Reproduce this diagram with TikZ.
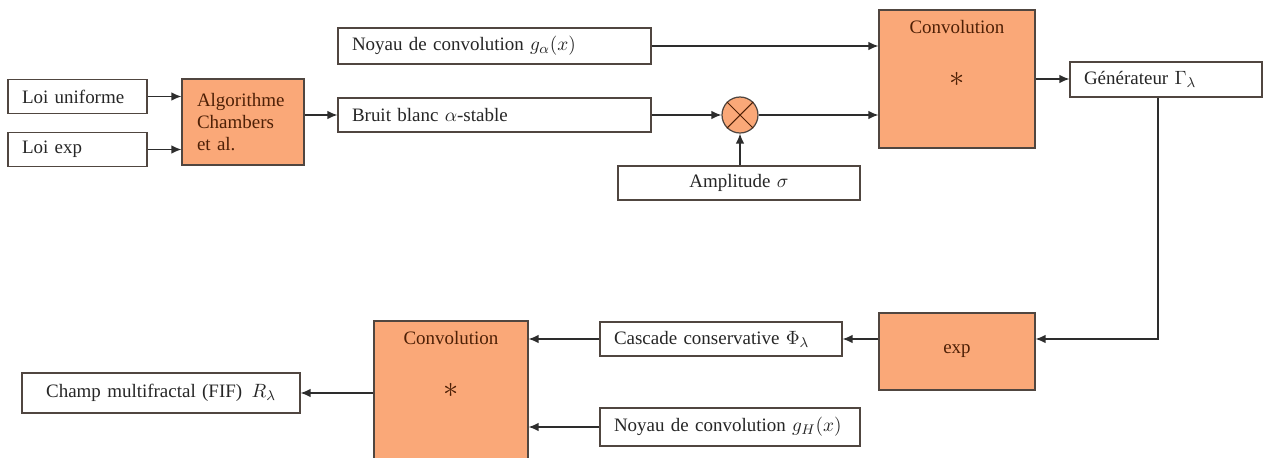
\documentclass[tikz,border=0pt]{standalone}
\usepackage{fontspec}
\setmainfont{Liberation Serif}
\usetikzlibrary{arrows.meta, positioning, calc}

\definecolor{boxorange}{RGB}{250,168,120}
\definecolor{boxedge}{RGB}{80,70,64}
\definecolor{brtext}{RGB}{78,32,6}
\definecolor{linegray}{RGB}{45,45,45}

\tikzset{
  wbox/.style={draw=boxedge, fill=white, line width=0.7pt, inner xsep=0.28cm,
    align=left, minimum height=0.68cm, text=black!85},
  obox/.style={draw=boxedge, fill=boxorange, line width=0.7pt, inner xsep=0.3cm,
    text=brtext},
  arr/.style={-{Latex[length=2mm,width=1.7mm]}, draw=linegray, line width=0.7pt}
}

\begin{document}
\begin{tikzpicture}[x=0.02cm, y=-0.02cm, font=\fontsize{10.8}{12.5}\selectfont]
  \clip (0,0) rectangle (1265,457);

  % Inputs
  \node[wbox, text width=2.22cm] (unif) at (77.5,96.5) {Loi uniforme};
  \node[wbox, text width=2.22cm] (lexp) at (77.5,149.5) {Loi exp};
  \node[obox, align=left, text width=1.84cm, minimum height=1.72cm] (algo) at (243,122)
    {Algorithme\\Chambers\\et al.};

  % Noise and kernel
  \node[wbox, text width=5.70cm, minimum height=0.72cm] (noyA) at (494.5,46)
    {Noyau de convolution $g_\alpha(x)$};
  \node[wbox, text width=5.70cm] (bruit) at (494.5,115) {Bruit blanc $\alpha$-stable};
  \node[draw=boxedge, fill=boxorange, circle, minimum size=0.72cm, inner sep=0pt,
    line width=0.7pt] (mult) at (740,115) {};
  \draw[brtext, line width=0.6pt] (mult.north west) -- (mult.south east)
    (mult.north east) -- (mult.south west);
  \node[wbox, align=center, text width=4.28cm] (ampl) at (739,183) {Amplitude $\sigma$};

  % First convolution
  \node[obox, minimum width=3.12cm, minimum height=2.76cm,
    label={[text=brtext, anchor=north, yshift=-0.1cm]north:Convolution}] (convA) at (957,79)
    {\LARGE$\ast$};
  \node[wbox, text width=3.28cm, minimum height=0.70cm] (gen) at (1166,79.5)
    {Générateur $\Gamma_\lambda$};

  % Exponential and cascade
  \node[obox, minimum width=3.12cm, minimum height=1.54cm] (expo) at (957,351.5) {exp};
  \node[wbox, text width=4.28cm] (casc) at (721,339) {Cascade conservative $\Phi_\lambda$};
  \node[wbox, text width=4.64cm, minimum height=0.76cm] (noyH) at (730,427)
    {Noyau de convolution $g_H(x)$};

  % Second convolution
  \node[obox, minimum width=3.08cm, minimum height=2.76cm,
    label={[text=brtext, anchor=north, yshift=-0.1cm]north:Convolution}] (convB) at (451,390)
    {\LARGE$\ast$};
  \node[wbox, align=center, text width=5.0cm, minimum height=0.80cm] (champ) at (161,393)
    {Champ multifractal (FIF) \,$R_\lambda$};

  % Connections
  \draw[arr] (unif.east) -- (unif.east -| algo.west);
  \draw[arr] (lexp.east) -- (lexp.east -| algo.west);
  \draw[arr] (algo.east |- bruit.west) -- (bruit.west);
  \draw[arr] (noyA.east) -- (noyA.east -| convA.west);
  \draw[arr] (bruit.east) -- (mult.west);
  \draw[arr] (mult.east) -- (mult.east -| convA.west);
  \draw[arr] (mult.south |- ampl.north) -- (mult.south);
  \draw[arr] (convA.east) -- (convA.east -| gen.west);
  \draw[arr] ([xshift=-0.16cm]gen.south) |- (casc.east -| expo.east);
  \draw[arr] (casc.east -| expo.west) -- (casc.east);
  \draw[arr] (casc.west) -- (casc.west -| convB.east);
  \draw[arr] (noyH.west) -- (noyH.west -| convB.east);
  \draw[arr] (convB.west |- champ.east) -- (champ.east);
\end{tikzpicture}
\end{document}
